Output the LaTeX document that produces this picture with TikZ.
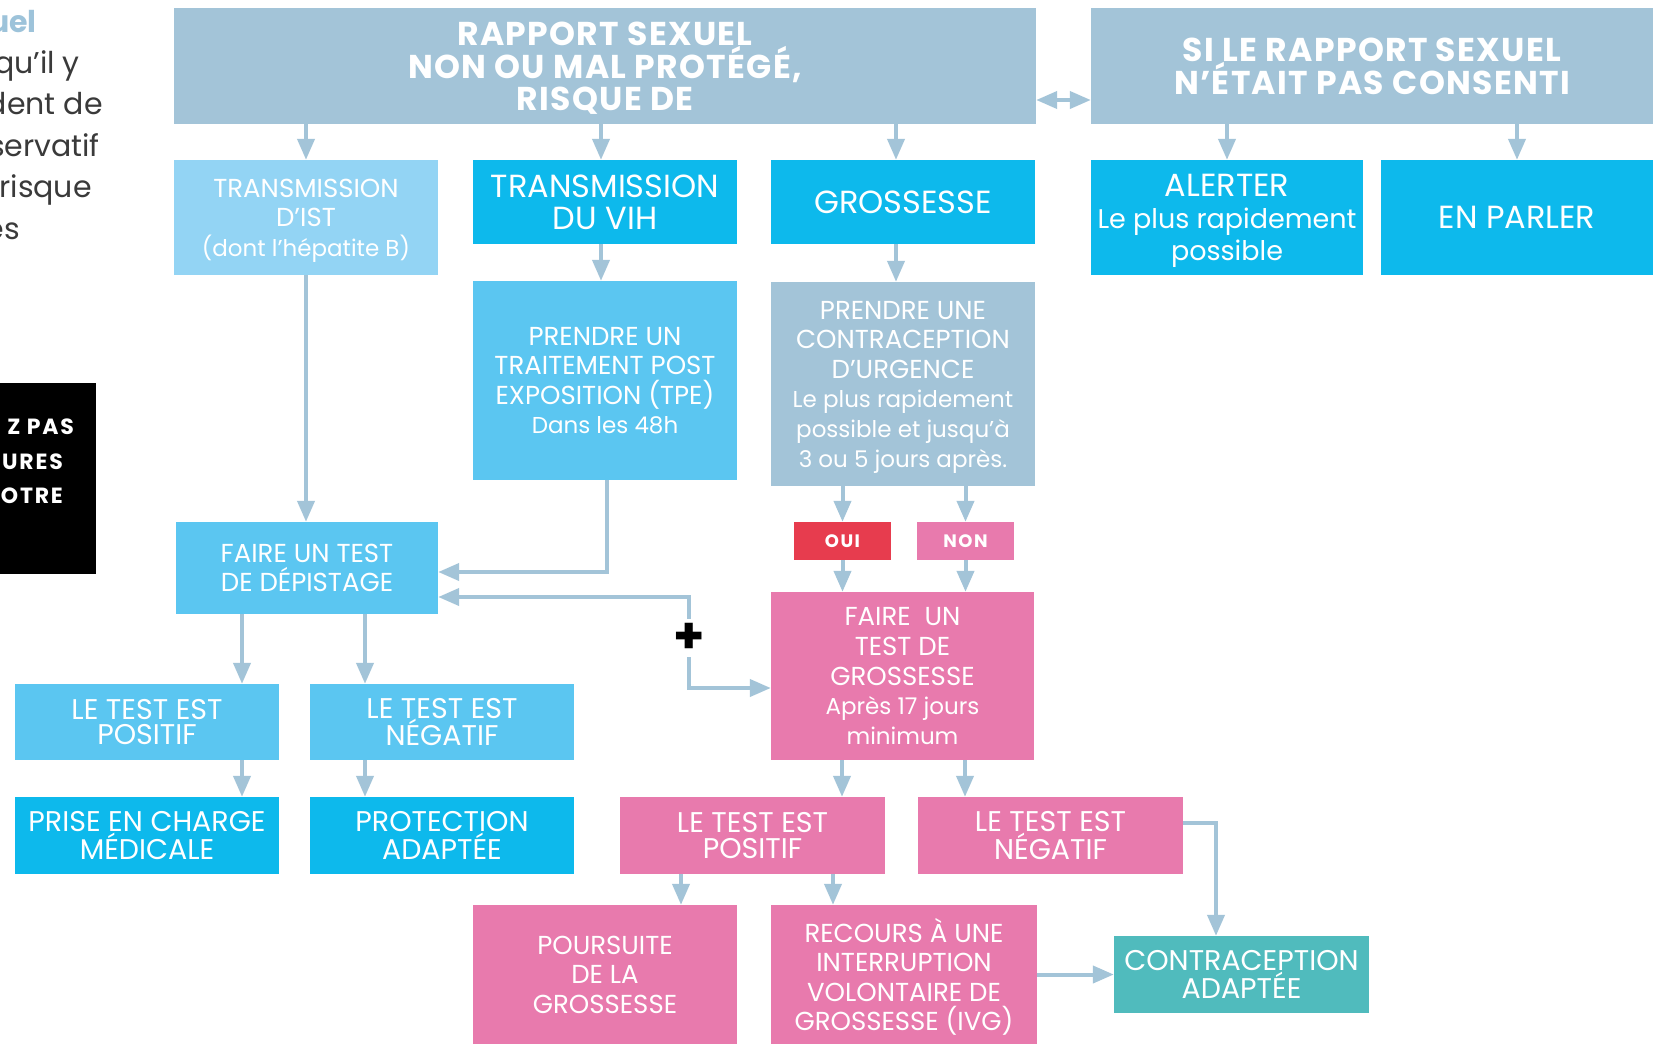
\documentclass[tikz,border=0pt]{standalone}
\usepackage{fontspec}
\setmainfont{Poppins}
\newfontfamily\titlef[LetterSpace=4]{Poppins}
\newfontfamily\flagf[LetterSpace=8]{Poppins}
\newcommand\lcs{\fontsize{23}{29.6}\selectfont}
\newcommand\lcb{\fontsize{27}{32}\selectfont}
\usetikzlibrary{arrows.meta}
\definecolor{cTop}{HTML}{A3C4D8}
\definecolor{cLight}{HTML}{93D4F4}
\definecolor{cCyan}{HTML}{0DB9EC}
\definecolor{cMid}{HTML}{5BC6F1}
\definecolor{cPink}{HTML}{E87AAD}
\definecolor{cRed}{HTML}{E73C4E}
\definecolor{cTeal}{HTML}{50BBBD}
\definecolor{cArrow}{HTML}{A3C4D8}
\definecolor{cGray}{HTML}{3A3A3A}
\definecolor{cUel}{HTML}{9DC3DA}
\tikzset{
  box/.style={rectangle, inner sep=0pt, align=center, text=white, text depth=0pt},
  ftitle/.style={font=\titlef\bfseries\fontsize{33}{32}\selectfont},
  fbig/.style={font=\fontsize{32}{32}\selectfont},
  fsmall/.style={font=\fontsize{26}{29.6}\selectfont},
  ftight/.style={font=\fontsize{28.5}{25.5}\selectfont},
  flag/.style={font=\flagf\bfseries\fontsize{18}{18}\selectfont},
  arr/.style={draw=cArrow, line width=4pt, -{Triangle[length=21pt,width=17pt]}},
  darr/.style={draw=cArrow, line width=4pt, {Triangle[length=21pt,width=17pt]}-{Triangle[length=21pt,width=17pt]}},
  lefttext/.style={anchor=base east, text=cGray, font=\fontsize{30}{30}\selectfont, inner sep=0pt},
  blacktext/.style={anchor=base east, text=white, font=\flagf\bfseries\fontsize{22}{22}\selectfont, inner sep=0pt}
}
\begin{document}
\begin{tikzpicture}[x=1pt,y=-1pt]
\useasboundingbox (0,0) rectangle (1663,1045);
\fill[white] (0,0) rectangle (1663,1045);

% clipped side text
\node[lefttext, text=cUel, font=\bfseries\fontsize{30}{30}\selectfont] (l0) at (37,32) {uel};
\node[lefttext] (l1) at (80,73) {qu’il y};
\node[lefttext] (l2) at (103,114) {dent de};
\node[lefttext] (l3) at (100,156) {servatif};
\node[lefttext] (l4) at (92,197) {risque};
\node[lefttext] (l5) at (20,239) {és};

\fill[black] (0,383) rectangle (96,574);
\node[blacktext] (b1) at (74,434) {Z PAS};
\node[blacktext] (b2) at (63,469) {URES};
\node[blacktext] (b3) at (63,503) {OTRE};

% boxes
\node[box, ftitle, fill=cTop, minimum width=862pt, minimum height=116pt] (top) at (605,66) {RAPPORT SEXUEL\\NON OU MAL PROTÉGÉ,\\RISQUE DE};
\node[box, ftitle, fill=cTop, minimum width=562pt, minimum height=116pt] (top2) at (1372,66) {SI LE RAPPORT SEXUEL\\N’ÉTAIT PAS CONSENTI};

\node[box, fsmall, fill=cLight, minimum width=264pt, minimum height=115pt] (ist) at (306,217.5) {TRANSMISSION\\D’IST\\{\lcs (dont l’hépatite B)}};
\node[box, fbig, fill=cCyan, minimum width=264pt, minimum height=84pt] (vih) at (605,202) {TRANSMISSION\\DU VIH};
\node[box, fbig, fill=cCyan, minimum width=264pt, minimum height=84pt] (gros) at (903,202) {GROSSESSE};
\node[box, fbig, fill=cCyan, minimum width=272pt, minimum height=115pt] (alert) at (1227,217.5) {ALERTER\\{\lcb Le plus rapidement}\\{\lcb possible}};
\node[box, fbig, fill=cCyan, minimum width=272pt, minimum height=115pt] (parler) at (1517,217.5) {EN PARLER};

\node[box, fsmall, fill=cMid, minimum width=264pt, minimum height=199pt] (tpe) at (605,380.5) {PRENDRE UN\\TRAITEMENT POST\\EXPOSITION (TPE)\\{\lcs Dans les 48h}};
\node[box, fsmall, fill=cTop, minimum width=264pt, minimum height=204pt] (cu) at (903,384) {PRENDRE UNE\\CONTRACEPTION\\D’URGENCE\\{\lcs Le plus rapidement}\\{\lcs possible et jusqu’à}\\{\lcs 3 ou 5 jours après.}};

\node[box, fsmall, fill=cMid, minimum width=262pt, minimum height=92pt] (dep) at (307,568) {FAIRE UN TEST\\DE DÉPISTAGE};
\node[box, flag, fill=cRed, minimum width=97pt, minimum height=38pt] (oui) at (842.5,541) {OUI};
\node[box, flag, fill=cPink, minimum width=97pt, minimum height=38pt] (non) at (965.5,541) {NON};
\node[box, fsmall, fill=cPink, minimum width=263pt, minimum height=168pt] (tg) at (902.5,676) {FAIRE\ \ UN\\TEST DE\\GROSSESSE\\{\lcs Après 17 jours}\\{\lcs minimum}};

\node[box, ftight, fill=cMid, minimum width=264pt, minimum height=76pt] (bpos) at (147,722) {LE TEST EST\\POSITIF};
\node[box, ftight, fill=cMid, minimum width=264pt, minimum height=76pt] (bneg) at (442,722) {LE TEST EST\\NÉGATIF};
\node[box, ftight, fill=cCyan, minimum width=264pt, minimum height=77pt] (prise) at (147,835.5) {PRISE EN CHARGE\\MÉDICALE};
\node[box, ftight, fill=cCyan, minimum width=264pt, minimum height=77pt] (prot) at (442,835.5) {PROTECTION\\ADAPTÉE};
\node[box, ftight, fill=cPink, minimum width=265pt, minimum height=77pt] (ppos) at (752.5,835.5) {LE TEST EST\\POSITIF};
\node[box, ftight, fill=cPink, minimum width=265pt, minimum height=77pt] (pneg) at (1050.5,835.5) {LE TEST EST\\NÉGATIF};
\node[box, fsmall, fill=cPink, minimum width=264pt, minimum height=139pt] (pours) at (605,974.5) {POURSUITE\\DE LA\\GROSSESSE};
\node[box, fsmall, fill=cPink, minimum width=266pt, minimum height=139pt] (ivg) at (904,974.5) {RECOURS À UNE\\INTERRUPTION\\VOLONTAIRE DE\\GROSSESSE (IVG)};
\node[box, ftight, fill=cTeal, minimum width=255pt, minimum height=77pt] (cadapt) at (1241.5,974.5) {CONTRACEPTION\\ADAPTÉE};

\node[inner sep=0pt, minimum size=38pt, text=black, font=\bfseries\fontsize{50}{50}\selectfont] (plus) at (689,638) {+};

% connectors
\draw[arr] (top.south -| ist.north) -- (ist.north);
\draw[arr] (top.south -| 601,0) -- (vih.north -| 601,0);
\draw[arr] (top.south -| 896,0) -- (gros.north -| 896,0);
\draw[arr] (top2.south -| alert.north) -- (alert.north);
\draw[arr] (top2.south -| parler.north) -- (parler.north);
\draw[darr] (top.east |- 0,100) -- (top2.west |- 0,100);

\draw[arr] (ist.south) -- (ist.south |- dep.north);
\draw[arr] (vih.south -| 601,0) -- (tpe.north -| 601,0);
\draw[arr] (gros.south -| 896,0) -- (cu.north -| 896,0);
\draw[arr] (tpe.south -| 607,0) |- (dep.east |- 0,572);
\draw[arr] (plus.north) |- (dep.east |- 0,597);
\draw[arr] (plus.south) |- (tg.west |- 0,688);

\draw[arr] (cu.south -| oui.north) -- (oui.north);
\draw[arr] (cu.south -| non.north) -- (non.north);
\draw[arr] (oui.south) -- (tg.north -| oui.south);
\draw[arr] (non.south) -- (tg.north -| non.south);

\draw[arr] (dep.south -| 242,0) -- (bpos.north -| 242,0);
\draw[arr] (dep.south -| 365,0) -- (bneg.north -| 365,0);
\draw[arr] (bpos.south -| 242,0) -- (prise.north -| 242,0);
\draw[arr] (bneg.south -| 365,0) -- (prot.north -| 365,0);

\draw[arr] (tg.south -| 842,0) -- (ppos.north -| 842,0);
\draw[arr] (tg.south -| 965,0) -- (pneg.north -| 965,0);
\draw[arr] (ppos.south -| 681,0) -- (pours.north -| 681,0);
\draw[arr] (ppos.south -| 833,0) -- (ivg.north -| 833,0);

\draw[arr] (pneg.east |- 0,823) -| (cadapt.north -| 1216,0);
\draw[arr] (ivg.east) -- (cadapt.west);
\end{tikzpicture}
\end{document}
